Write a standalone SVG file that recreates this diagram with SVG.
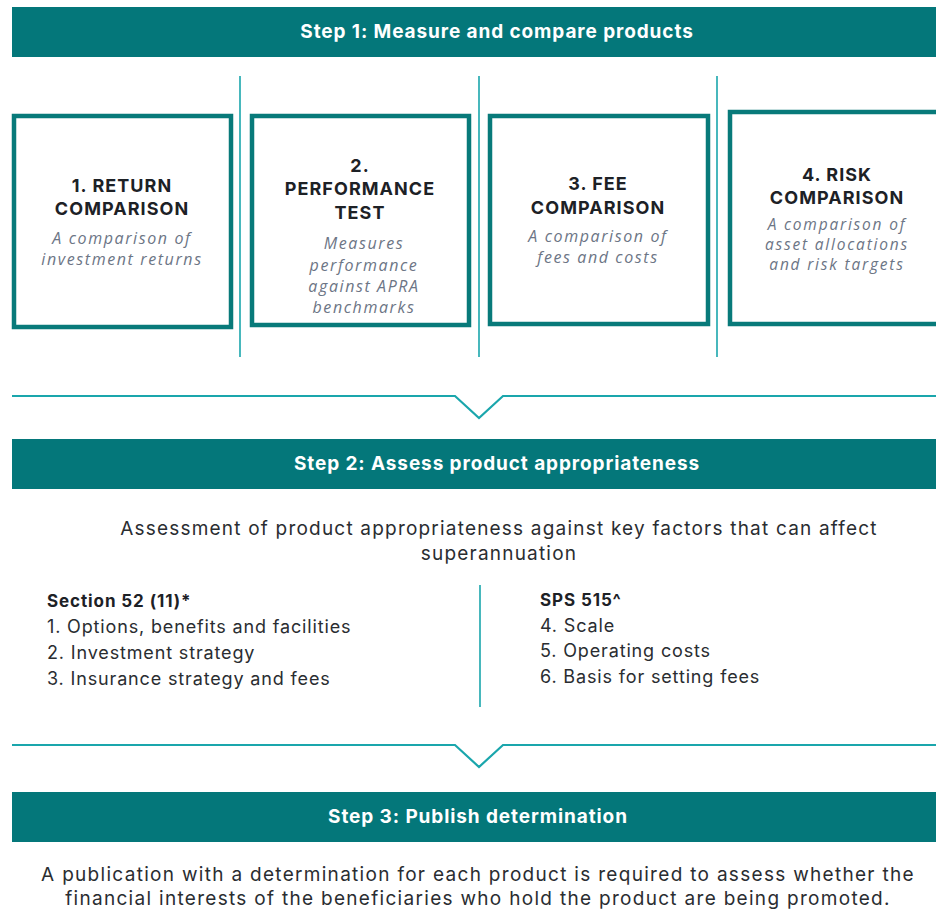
<svg xmlns="http://www.w3.org/2000/svg" width="936" height="911" viewBox="0 0 936 911">
  <style>
    .banner { fill: #04777A; }
    .banner-text { fill: #ffffff; font-family: Inter, "Liberation Sans", sans-serif; font-weight: 700; font-size: 19px; letter-spacing: 0.9px; text-anchor: middle; }
    .card { fill: #ffffff; stroke: #087A7A; stroke-width: 4.5; }
    .card-title { fill: #1d2126; font-family: Inter, "Liberation Sans", sans-serif; font-weight: 700; font-size: 18px; letter-spacing: 1.05px; text-anchor: middle; }
    .card-sub { fill: #6c7585; font-family: "Open Sans", "Liberation Sans", sans-serif; font-style: italic; font-size: 16px; text-anchor: middle; letter-spacing: 1.6px; }
    .card-sub-tight { font-size: 15.5px; letter-spacing: 1.8px; }
    .rule { stroke: #1AA6AC; stroke-width: 1.6; fill: none; }
    .chevron { stroke: #1AA6AC; stroke-width: 2.2; fill: none; }
    .body { fill: #2a2d31; font-family: Inter, "Liberation Sans", sans-serif; font-size: 18px; letter-spacing: 0.85px; }
    .lead { font-size: 19px; letter-spacing: 1.2px; text-anchor: middle; }
    .lead-wide { letter-spacing: 1.3px; }
    .body-b { font-weight: 700; font-size: 17px; letter-spacing: 0.9px; fill: #1d2126; }
  </style>

  <rect width="936" height="911" fill="#ffffff"/>

  <!-- Step 1 banner -->
  <g id="step1">
    <rect class="banner" x="12" y="7" width="924" height="50"/>
    <text class="banner-text" x="497" y="38">Step 1: Measure and compare products</text>
  </g>

  <!-- Separators and flow chevrons -->
  <g id="connectors">
    <line class="rule" x1="240" y1="76" x2="240" y2="357"/>
    <line class="rule" x1="479" y1="76" x2="479" y2="357"/>
    <line class="rule" x1="717" y1="76" x2="717" y2="357"/>
    <polyline class="chevron" points="12,396 455,396 479,418 503,396 936,396"/>
    <line class="rule" x1="480" y1="585" x2="480" y2="707" stroke-width="2"/>
    <polyline class="chevron" points="12,745 455,745 479,767 503,745 936,745"/>
  </g>

  <!-- Comparison cards -->
  <g id="card-return">
    <rect class="card" x="14" y="116" width="217" height="211"/>
    <text class="card-title" x="122" y="192">1. RETURN</text>
    <text class="card-title" x="122" y="215">COMPARISON</text>
    <text class="card-sub" x="122" y="244">A comparison of</text>
    <text class="card-sub" x="122" y="265">investment returns</text>
  </g>

  <g id="card-performance">
    <rect class="card" x="252" y="116" width="217" height="209"/>
    <text class="card-title" x="360" y="172">2.</text>
    <text class="card-title" x="360" y="195">PERFORMANCE</text>
    <text class="card-title" x="360" y="219">TEST</text>
    <text class="card-sub" x="364" y="249">Measures</text>
    <text class="card-sub" x="364" y="271">performance</text>
    <text class="card-sub" x="364" y="292">against APRA</text>
    <text class="card-sub" x="364" y="313">benchmarks</text>
  </g>

  <g id="card-fee">
    <rect class="card" x="490" y="116" width="218" height="208"/>
    <text class="card-title" x="598" y="190">3. FEE</text>
    <text class="card-title" x="598" y="214">COMPARISON</text>
    <text class="card-sub" x="598" y="242">A comparison of</text>
    <text class="card-sub" x="598" y="263">fees and costs</text>
  </g>

  <g id="card-risk">
    <rect class="card" x="730" y="112" width="220" height="212"/>
    <text class="card-title" x="837" y="181">4. RISK</text>
    <text class="card-title" x="837" y="204">COMPARISON</text>
    <text class="card-sub card-sub-tight" x="837" y="230">A comparison of</text>
    <text class="card-sub card-sub-tight" x="837" y="250">asset allocations</text>
    <text class="card-sub card-sub-tight" x="837" y="270">and risk targets</text>
  </g>

  <!-- Step 2 banner and detail -->
  <g id="step2">
    <rect class="banner" x="12" y="439" width="924" height="50"/>
    <text class="banner-text" x="497" y="470">Step 2: Assess product appropriateness</text>
  </g>

  <g id="step2-detail">
    <text class="body lead" x="499" y="535">Assessment of product appropriateness against key factors that can affect</text>
    <text class="body lead" x="499" y="560">superannuation</text>
  </g>

  <g id="section-52">
    <text class="body body-b" x="47" y="607">Section 52 (11)*</text>
    <text class="body" x="47" y="633">1.  Options, benefits and facilities</text>
    <text class="body" x="47" y="659">2. Investment strategy</text>
    <text class="body" x="47" y="685">3. Insurance strategy and fees</text>
  </g>

  <g id="sps-515">
    <text class="body body-b" x="540" y="606">SPS 515^</text>
    <text class="body" x="540" y="632">4. Scale</text>
    <text class="body" x="540" y="657">5. Operating costs</text>
    <text class="body" x="540" y="683">6. Basis for setting fees</text>
  </g>

  <!-- Step 3 banner and detail -->
  <g id="step3">
    <rect class="banner" x="12" y="792" width="924" height="50"/>
    <text class="banner-text" x="478" y="823">Step 3: Publish determination</text>
  </g>

  <g id="step3-detail">
    <text class="body lead lead-wide" x="478" y="881">A publication with a determination for each product is required to assess whether the</text>
    <text class="body lead lead-wide" x="478" y="905">financial interests of the beneficiaries who hold the product are being promoted.</text>
  </g>
</svg>
